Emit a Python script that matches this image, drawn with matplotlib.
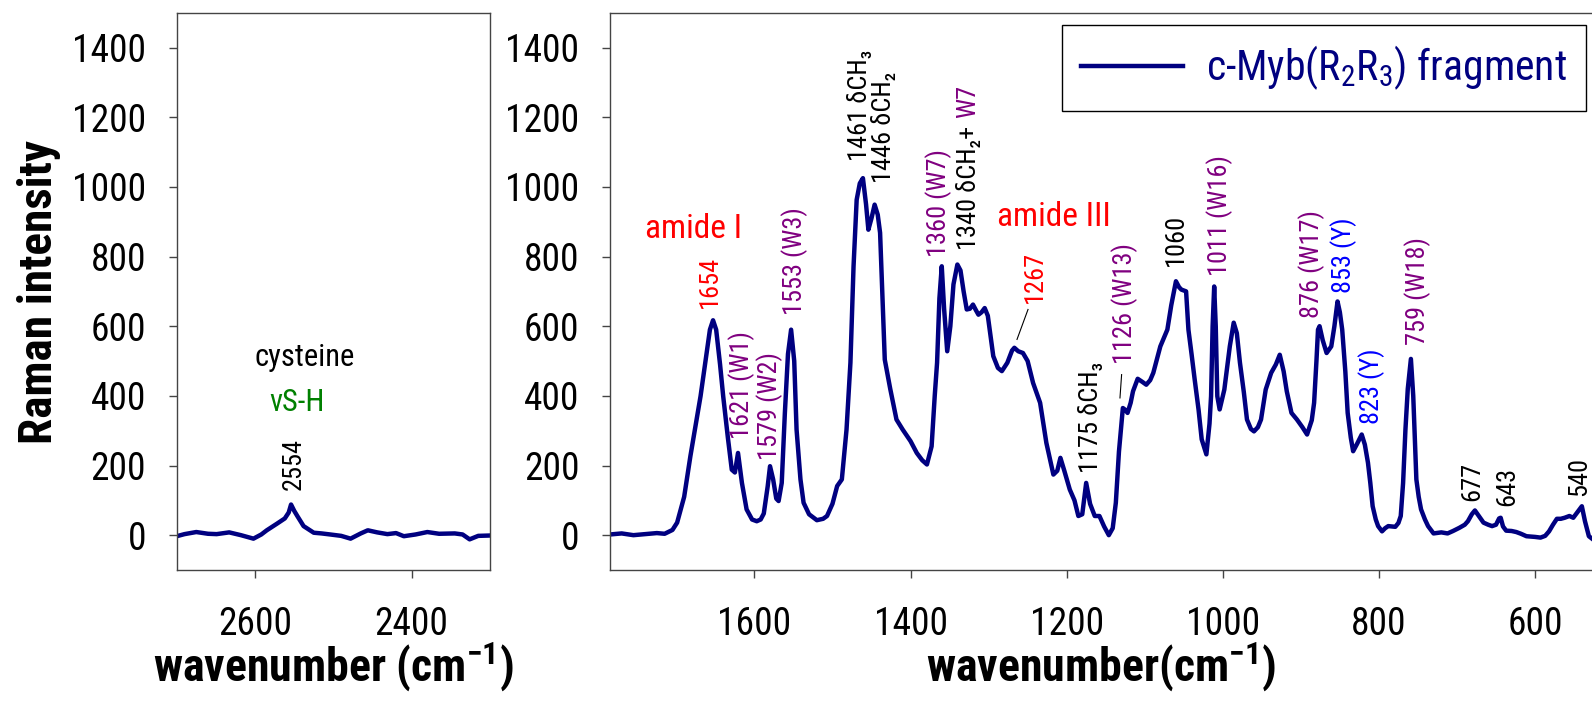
import numpy as np
import matplotlib
matplotlib.use("Agg")
import matplotlib.pyplot as plt

plt.rcParams['font.family'] = ['Liberation Sans Narrow', 'Arial Narrow', 'Roboto Condensed',
                               'Archivo Narrow', 'PT Sans Narrow', 'DejaVu Sans']
plt.rcParams['mathtext.default'] = 'regular'

# spectrum 2700-2300 cm-1 (S-H stretch region)
wn_sh = [2700, 2690, 2675, 2660, 2649, 2633, 2618, 2602, 2592, 2585, 2572, 2562, 2557,
         2554, 2550, 2546, 2538, 2525, 2515, 2504, 2490, 2478, 2465, 2456, 2444, 2431,
         2420, 2410, 2395, 2380, 2365, 2345, 2335, 2326, 2315, 2300]
int_sh = [-3, 3, 9, 4, 3, 8, 0, -10, 2, 14, 33, 48, 65,
          88, 70, 55, 26, 7, 5, 2, -2, -10, 5, 14, 8, 3,
          6, -3, 2, 9, 4, 5, 2, -12, -2, -1]

# spectrum 1785-527 cm-1 (fingerprint region)
wn_fp = [1785, 1770, 1755, 1740, 1725, 1715, 1705, 1699, 1690, 1682, 1675, 1669, 1663, 1657,
         1653, 1649, 1644, 1640, 1634, 1629, 1625, 1621, 1616, 1610, 1603, 1597, 1592, 1588,
         1583, 1580, 1576, 1572, 1569, 1565, 1561, 1557, 1553, 1549, 1546, 1541, 1537, 1530,
         1520, 1512, 1507, 1500, 1494, 1488, 1482, 1477, 1473, 1469, 1465, 1461, 1457, 1454,
         1450, 1446, 1442, 1439, 1435, 1433, 1426, 1418, 1410, 1400, 1392, 1385, 1379, 1373,
         1369, 1366, 1363, 1360, 1357, 1353, 1349, 1345, 1340, 1336, 1332, 1328, 1324, 1320,
         1316, 1313, 1309, 1305, 1301, 1298, 1294, 1288, 1283, 1276, 1270, 1267, 1262, 1256,
         1250, 1243, 1234, 1226, 1217, 1212, 1208, 1203, 1196, 1190, 1185, 1180, 1175, 1170,
         1164, 1158, 1152, 1146, 1141, 1137, 1133, 1128, 1125, 1122, 1118, 1115, 1109, 1103,
         1098, 1093, 1089, 1085, 1080, 1071, 1066, 1060, 1056, 1053, 1047, 1044, 1040, 1036,
         1031, 1027, 1021, 1017, 1015, 1013, 1011, 1009, 1007, 1004, 998, 991, 986, 982,
         978, 973, 969, 964, 960, 955, 951, 945, 938, 932, 927, 922, 918, 912,
         905, 898, 892, 886, 883, 880, 878, 876, 872, 867, 861, 857, 853, 850,
         847, 843, 840, 836, 833, 828, 822, 818, 814, 811, 808, 804, 801, 796,
         792, 788, 779, 775, 772, 769, 766, 763, 759, 756, 752, 749, 746, 741,
         737, 730, 720, 712, 705, 697, 690, 686, 681, 677, 672, 666, 660, 655,
         650, 646, 644, 641, 637, 630, 624, 618, 611, 600, 593, 587, 582, 577,
         572, 567, 562, 556, 551, 546, 540, 536, 531, 527]
int_fp = [2, 5, 0, 3, 6, 4, 15, 36, 110, 227, 320, 399, 495, 590,
          617, 590, 490, 399, 280, 188, 180, 236, 150, 74, 45, 40, 45, 62,
          140, 198, 160, 105, 98, 150, 350, 520, 590, 500, 303, 160, 93, 60,
          43, 47, 55, 90, 141, 160, 303, 495, 772, 963, 1010, 1025, 950, 877,
          910, 949, 920, 868, 620, 504, 420, 332, 303, 270, 236, 215, 203, 255,
          400, 495, 680, 772, 650, 528, 600, 720, 777, 760, 700, 648, 650, 662,
          645, 633, 640, 652, 630, 581, 514, 480, 471, 495, 530, 538, 528, 523,
          500, 437, 380, 265, 174, 185, 222, 185, 131, 100, 55, 60, 150, 90,
          55, 55, 25, 0, 20, 93, 240, 365, 360, 351, 380, 413, 449, 440,
          432, 445, 466, 500, 542, 590, 660, 729, 712, 705, 700, 590, 520, 447,
          360, 275, 232, 320, 399, 600, 714, 600, 399, 361, 418, 542, 610, 580,
          495, 410, 332, 305, 298, 310, 332, 418, 466, 490, 518, 470, 413, 351,
          332, 310, 289, 330, 380, 500, 590, 600, 560, 523, 542, 600, 671, 640,
          590, 470, 351, 280, 241, 262, 289, 260, 208, 150, 83, 45, 26, 11,
          20, 26, 24, 35, 55, 150, 303, 420, 506, 400, 160, 110, 74, 45,
          26, 5, 8, 5, 12, 21, 30, 40, 60, 71, 55, 36, 30, 26,
          30, 48, 50, 25, 13, 12, 9, 4, -3, -5, -7, -2, 11, 30,
          47, 47, 50, 55, 50, 65, 83, 40, -3, -10]

# peak labels (rotated): text, colour, wavenumber, intensity at text bottom
peak_labels = [
    ('1654', 'red', 1657, 653),
    ('1621 (W1)', 'purple', 1616, 275),
    ('1579 (W2)', 'purple', 1580, 217),
    ('1553 (W3)', 'purple', 1549, 633),
    ('1461 δCH₃', 'black', 1465, 1073),
    ('1446 δCH₂', 'black', 1435, 1011),
    ('1360 (W7)', 'purple', 1364, 800),
    ('1267', 'red', 1241, 667),
    ('1175 δCH₃', 'black', 1170, 179),
    ('1126 (W13)', 'purple', 1126, 490),
    ('1060', 'black', 1060, 772),
    ('1011 (W16)', 'purple', 1004, 743),
    ('876 (W17)', 'purple', 886, 624),
    ('853 (Y)', 'blue', 845, 695),
    ('823 (Y)', 'blue', 810, 318),
    ('759 (W18)', 'purple', 750, 547),
    ('677', 'black', 681, 98),
    ('643', 'black', 635, 83),
    ('540', 'black', 544, 112),
]

navy = '#000080'
spine_c = '#444444'

fig = plt.figure(figsize=(15.92, 7.02), dpi=100)
ax1 = fig.add_axes([176.7 / 1592, 132 / 702, 313.3 / 1592, 557.3 / 702])
ax2 = fig.add_axes([610 / 1592, 132 / 702, 982 / 1592, 557.3 / 702])

for ax in (ax1, ax2):
    ax.set_ylim(-100, 1500)
    ax.set_yticks(range(0, 1401, 200))
    ax.tick_params(direction='out', length=6, width=1, color=spine_c,
                   labelsize=27, pad=16)
    ax.tick_params(axis='x', pad=20)
    for s in ax.spines.values():
        s.set_color(spine_c)
        s.set_linewidth(1.0)

ax1.plot(wn_sh, int_sh, color=navy, lw=3.2)
ax1.set_xlim(2700, 2300)
ax1.set_xticks([2600, 2400])
ax1.text(2536, 509, 'cysteine', ha='center', va='center', fontsize=22)
ax1.text(2546, 380, 'νS-H', ha='center', va='center', fontsize=22, color='green')
ax1.text(2551, 131, '2554', rotation=90, ha='center', va='bottom', fontsize=19)
ax1.set_xlabel('wavenumber (cm$^{-1}$)', fontsize=33, fontweight='bold')
ax1.xaxis.set_label_coords(0.5, -0.125)

ax2.plot(wn_fp, int_fp, color=navy, lw=3.2, label='c-Myb(R$_{2}$R$_{3}$) fragment')
ax2.set_xlim(1785, 527)
ax2.set_xticks(range(1600, 599, -200))
ax2.spines['right'].set_visible(False)
ax2.set_xlabel('wavenumber(cm$^{-1}$)', fontsize=33, fontweight='bold')
ax2.xaxis.set_label_coords(0.5, -0.125)

for txt, col, x, y in peak_labels:
    ax2.text(x, y, txt, rotation=90, ha='center', va='bottom', fontsize=19, color=col)

t1340 = ax2.text(1326, 820, '1340 δCH₂+', rotation=90, ha='center', va='bottom',
                 fontsize=19, color='black')
ax2.annotate('W7', xy=(0.5, 1.0), xycoords=t1340, xytext=(0, 5), textcoords='offset points',
             rotation=90, ha='center', va='bottom', fontsize=19, color='purple')

ax2.text(1678, 880, 'amide I', ha='center', va='center', fontsize=24, color='red')
ax2.text(1217, 914, 'amide III', ha='center', va='center', fontsize=24, color='red')

# leader lines
ax2.plot([1249.5, 1263.6], [648, 562], color='black', lw=0.8)
ax2.plot([1129.6, 1131.7], [461, 394], color='black', lw=0.8)

leg = ax2.legend(loc='upper right', bbox_to_anchor=(1585.8 / 1592, 1 - 25 / 702),
                 bbox_transform=fig.transFigure, borderaxespad=0, fontsize=30,
                 handlelength=2.45, handletextpad=0.55, borderpad=0.45,
                 fancybox=False, framealpha=1, edgecolor='black')
leg.get_frame().set_linewidth(1.0)
for t in leg.get_texts():
    t.set_color(navy)

fig.text(39 / 1592, 1 - 292 / 702, 'Raman intensity', rotation=90, ha='center',
         va='center', fontsize=34, fontweight='bold')

fig.savefig('out.png', dpi=100)
